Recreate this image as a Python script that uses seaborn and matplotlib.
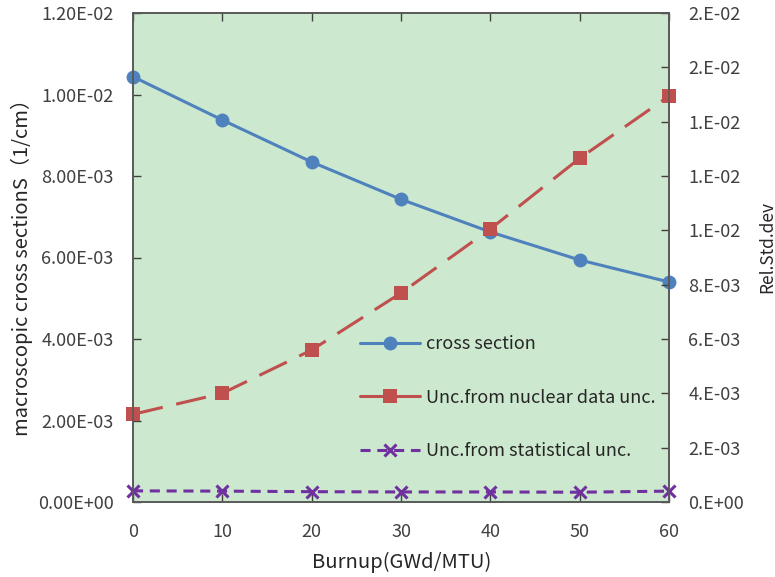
import matplotlib
matplotlib.use("Agg")
import matplotlib.pyplot as plt
from matplotlib.lines import Line2D
import seaborn as sns
import pandas as pd
from matplotlib.ticker import FuncFormatter, MultipleLocator

burnup = [0, 10, 20, 30, 40, 50, 60]
cross_section = [0.010437, 0.009374, 0.008344, 0.007428, 0.006626, 0.005939, 0.005399]
unc_nuclear = [0.003228, 0.004001, 0.005595, 0.007693, 0.010050, 0.012652, 0.014945]
unc_statistical = [0.00041, 0.00040, 0.00038, 0.00037, 0.00037, 0.00036, 0.00040]

labels = ["cross section", "Unc.from nuclear data unc.", "Unc.from statistical unc."]
xlabel = "Burnup(GWd/MTU)"
ylabel_left = "macroscopic cross sectionS（1/cm）"
ylabel_right = "Rel.Std.dev"

sns.set_theme(style="white")
plt.rcParams['font.family'] = ['Noto Sans CJK SC', 'DejaVu Sans']
plt.rcParams['axes.unicode_minus'] = False

df = pd.DataFrame({"burnup": burnup, "cs": cross_section,
                   "nuc": unc_nuclear, "stat": unc_statistical})

fig = plt.figure(figsize=(7.75, 5.77), dpi=100)
ax1 = fig.add_axes([133/775, 1-502/577, (669-133)/775, (502-13)/577])
ax1.set_facecolor("#CCE8CF")
ax2 = ax1.twinx()

blue = "#4F81BD"
red = "#C0504D"
purple = "#7030A0"

sns.lineplot(data=df, x="burnup", y="cs", ax=ax1, color=blue, lw=2.2,
             marker="o", markersize=10, markeredgewidth=0, label=labels[0], legend=False)
sns.lineplot(data=df, x="burnup", y="nuc", ax=ax2, color=red, lw=2.2,
             marker="s", markersize=9.5, markeredgewidth=0, label=labels[1], legend=False)
sns.lineplot(data=df, x="burnup", y="stat", ax=ax2, color=purple, lw=2.2,
             marker="x", markersize=8, markeredgewidth=2.2, markeredgecolor=purple,
             label=labels[2], legend=False)
ax2.lines[0].set_dashes([10, 4.5])
ax2.lines[1].set_dashes([3.3, 2.2])
for ln in ax1.get_lines() + ax2.get_lines():
    ln.set_clip_on(False)

ax1.set_xlim(0, 60)
ax1.set_ylim(0, 0.012)
ax2.set_ylim(0, 0.018)
ax1.xaxis.set_major_locator(MultipleLocator(10))
ax1.yaxis.set_major_locator(MultipleLocator(0.002))
ax2.yaxis.set_major_locator(MultipleLocator(0.002))
ax1.yaxis.set_major_formatter(FuncFormatter(lambda v, p: format(v, ".2E")))
ax2.yaxis.set_major_formatter(FuncFormatter(lambda v, p: format(v, "#.0E")))

tc = "#404040"
for ax in (ax1, ax2):
    for s in ax.spines.values():
        s.set_color("#595959")
        s.set_linewidth(1.2)
    ax.tick_params(direction="in", length=6, width=1, color="#404040",
                   labelsize=13, labelcolor=tc, pad=14)
ax1.tick_params(axis="x", top=True, bottom=True, pad=15)
ax1.tick_params(axis="y", left=True)
ax2.tick_params(axis="y", right=True)

ax1.set_xlabel(xlabel, fontsize=14.5, color="#262626")
ax1.set_ylabel(ylabel_left, fontsize=14.5, color="#262626")
ax2.set_ylabel(ylabel_right, fontsize=12.5, color="#262626", rotation=90)
ax1.xaxis.label.set_va("center")
ax1.yaxis.label.set_va("center")
ax2.yaxis.label.set_va("center")
ax1.xaxis.set_label_coords(0.502, -0.1227)
ax1.yaxis.set_label_coords(-0.207, 0.49)
ax2.yaxis.set_label_coords(1.183, 0.521)

h_cs = Line2D([], [], color=blue, lw=2.2, marker="o", markersize=10, markeredgewidth=0)
h_nuc = Line2D([], [], color=red, lw=2.2, marker="s", markersize=9.5, markeredgewidth=0)
h_stat = Line2D([], [], color=purple, lw=2.2, marker="x", markersize=8,
                markeredgewidth=2.2, dashes=[3.3, 2.2])
leg = ax2.legend([h_cs, h_nuc, h_stat], labels, loc="upper left",
                 bbox_to_anchor=(353/775, 1-328/577),
                 bbox_transform=fig.transFigure, frameon=False, fontsize=13,
                 handlelength=3.3, labelspacing=1.97, handletextpad=0.33, borderaxespad=0)
for t in leg.get_texts():
    t.set_color("#262626")

fig.savefig("out.png", dpi=100)
